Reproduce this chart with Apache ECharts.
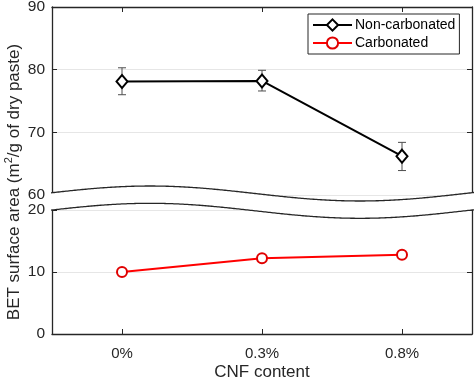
<!DOCTYPE html>
<html>
<head>
<meta charset="utf-8">
<script src="https://cdn.jsdelivr.net/npm/echarts@6/dist/echarts.min.js"></script>
<style>html,body{margin:0;padding:0;background:#fff;}#c{width:474px;height:379px;}</style>
</head>
<body>
<div id="c"></div>
<script>
// ---- data ----
var categories = ['0%', '0.3%', '0.8%'];
var nonCarbonated = [78.1, 78.2, 66.2];
var nonCarbLow = [76.0, 76.6, 63.9];
var nonCarbHigh = [80.3, 79.9, 68.4];
var carbonated = [10.0, 12.2, 12.8];
var upperTicks = [60, 90, 10]; // min, max, interval
var lowerTicks = [0, 20, 10];

var FONT = "'Liberation Sans', Arial, Helvetica, sans-serif";
var AX = '#262626';

var chart = echarts.init(document.getElementById('c'), null, {renderer: 'canvas'});

var errData = categories.map(function (c, i) { return [i, nonCarbLow[i], nonCarbHigh[i]]; });

// wave break decoration (pixel space)
function wave(base) {
  var pts = [];
  for (var x = 51; x <= 474; x += 3) {
    pts.push([x, base - 7.5 * Math.cos(2 * Math.PI * (x - 150) / 420)]);
  }
  return pts;
}
var w1 = wave(193.5), w2 = wave(210.8);
var poly = w1.concat(w2.slice().reverse());

var tickCommon = {show: true, inside: true, length: 5, lineStyle: {color: AX, width: 1}};
var lineCommon = {show: true, lineStyle: {color: AX, width: 1.3}};

var option = {
  animation: false,
  backgroundColor: '#fff',
  textStyle: {fontFamily: FONT},
  grid: [
    {left: 52, top: 7, width: 420, height: 188, containLabel: false, outerBoundsMode: 'none'},
    {left: 52, top: 210, width: 420, height: 124, containLabel: false, outerBoundsMode: 'none'}
  ],
  xAxis: [
    {gridIndex: 0, type: 'category', data: categories, position: 'top', boundaryGap: true,
     axisLine: lineCommon, axisTick: Object.assign({alignWithLabel: true}, tickCommon),
     axisLabel: {show: false}, splitLine: {show: false}},
    {gridIndex: 1, type: 'category', data: categories, position: 'bottom', boundaryGap: true,
     axisLine: lineCommon, axisTick: Object.assign({alignWithLabel: true}, tickCommon),
     axisLabel: {show: true, color: AX, fontSize: 15, margin: 12, fontFamily: FONT},
     name: 'CNF content', nameLocation: 'middle', nameGap: 30,
     nameTextStyle: {color: AX, fontSize: 17, fontFamily: FONT},
     splitLine: {show: false}}
  ],
  yAxis: [
    {gridIndex: 0, type: 'value', min: upperTicks[0], max: upperTicks[1], interval: upperTicks[2], position: 'left',
     axisLine: lineCommon, axisTick: tickCommon,
     axisLabel: {color: AX, fontSize: 15.5, margin: 7, fontFamily: FONT},
     splitLine: {show: true, lineStyle: {color: '#e6e6e6', width: 1}}},
    {gridIndex: 0, type: 'value', min: upperTicks[0], max: upperTicks[1], interval: upperTicks[2], position: 'right',
     axisLine: lineCommon, axisTick: tickCommon, axisLabel: {show: false}, splitLine: {show: false}},
    {gridIndex: 1, type: 'value', min: lowerTicks[0], max: lowerTicks[1], interval: lowerTicks[2], position: 'left',
     axisLine: lineCommon, axisTick: tickCommon,
     axisLabel: {color: AX, fontSize: 15.5, margin: 7, fontFamily: FONT},
     splitLine: {show: true, lineStyle: {color: '#e6e6e6', width: 1}}},
    {gridIndex: 1, type: 'value', min: lowerTicks[0], max: lowerTicks[1], interval: lowerTicks[2], position: 'right',
     axisLine: lineCommon, axisTick: tickCommon, axisLabel: {show: false}, splitLine: {show: false}}
  ],
  legend: {
    orient: 'vertical', left: 308, top: 14,
    padding: [4, 4, 4, 4], itemGap: 4, itemWidth: 39, itemHeight: 14,
    borderColor: AX, borderWidth: 1, backgroundColor: '#fff',
    textStyle: {color: '#000', fontSize: 14, fontFamily: FONT, padding: [0, 0, 0, -2]},
    data: ['Non-carbonated', 'Carbonated']
  },
  series: [
    {
      type: 'custom', name: 'err', xAxisIndex: 0, yAxisIndex: 0, z: 3,
      data: errData,
      renderItem: function (params, api) {
        var lo = api.coord([api.value(0), api.value(1)]);
        var hi = api.coord([api.value(0), api.value(2)]);
        var hw = 4;
        var st = {stroke: '#4d4d4d', lineWidth: 1};
        return {type: 'group', children: [
          {type: 'line', shape: {x1: lo[0], y1: lo[1], x2: hi[0], y2: hi[1]}, style: st},
          {type: 'line', shape: {x1: lo[0] - hw, y1: lo[1], x2: lo[0] + hw, y2: lo[1]}, style: st},
          {type: 'line', shape: {x1: hi[0] - hw, y1: hi[1], x2: hi[0] + hw, y2: hi[1]}, style: st}
        ]};
      }
    },
    {
      type: 'line', name: 'Non-carbonated', xAxisIndex: 0, yAxisIndex: 0, z: 5,
      data: nonCarbonated,
      symbol: 'diamond', symbolSize: [11, 13], showAllSymbol: true,
      lineStyle: {color: '#000', width: 2},
      itemStyle: {color: '#fff', borderColor: '#000', borderWidth: 2}
    },
    {
      type: 'line', name: 'Carbonated', xAxisIndex: 1, yAxisIndex: 2, z: 5,
      data: carbonated,
      symbol: 'circle', symbolSize: 10, showAllSymbol: true,
      lineStyle: {color: '#ff0000', width: 2},
      itemStyle: {color: '#fff', borderColor: '#e00000', borderWidth: 2}
    }
  ],
  graphic: [
    {type: 'polygon', z: 100, shape: {points: poly}, style: {fill: '#fff', stroke: null}},
    {type: 'polyline', z: 101, shape: {points: w1, smooth: 0.3}, style: {stroke: AX, lineWidth: 1.3, fill: null}},
    {type: 'polyline', z: 101, shape: {points: w2, smooth: 0.3}, style: {stroke: AX, lineWidth: 1.3, fill: null}},
    {type: 'text', z: 101, x: 13, y: 182, rotation: Math.PI / 2,
     style: {
       text: '{a|BET surface area (m}{s|2}{a|/g of dry paste)}',
       align: 'center', verticalAlign: 'middle',
       rich: {
         a: {fontSize: 17, fill: AX, fontFamily: FONT, verticalAlign: 'bottom'},
         s: {fontSize: 11, fill: AX, fontFamily: FONT, verticalAlign: 'top', padding: [0, 0, 9, 0]}
       }
     }}
  ]
};
chart.setOption(option);
</script>
</body>
</html>
